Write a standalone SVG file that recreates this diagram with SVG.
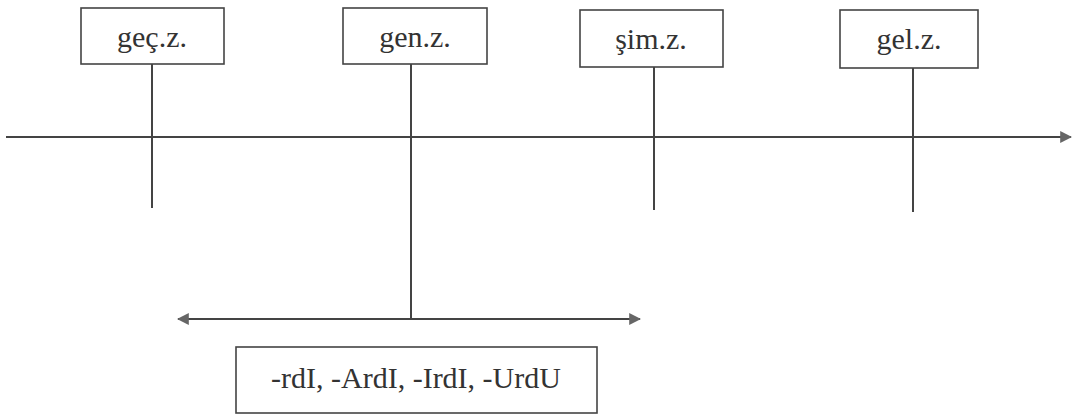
<svg xmlns="http://www.w3.org/2000/svg" width="1074" height="414" viewBox="0 0 1074 414">
<style>
.box{fill:#fff;stroke:#444;stroke-width:1.6}
.lbl{font-family:'Liberation Serif','Times New Roman','DejaVu Serif',serif;font-size:30px;fill:#333;text-anchor:middle}
.ln{stroke:#444;stroke-width:2;fill:none}
</style>
<defs>
<marker id="ah" viewBox="0 0 10 10" refX="9" refY="5" markerWidth="6" markerHeight="6" orient="auto-start-reverse" markerUnits="strokeWidth">
<path d="M0,0 L10,5 L0,10 z" fill="#666"/>
</marker>
</defs>
<rect width="1074" height="414" fill="#fff"/>
<g id="connectors">
<line class="ln" x1="6" y1="137" x2="1071" y2="137" marker-end="url(#ah)"/>
<line class="ln" x1="152" y1="64" x2="152" y2="208"/>
<line class="ln" x1="411" y1="64" x2="411" y2="319"/>
<line class="ln" x1="654" y1="67" x2="654" y2="210"/>
<line class="ln" x1="913" y1="68" x2="913" y2="212"/>
<line class="ln" x1="178" y1="319" x2="640" y2="319" marker-start="url(#ah)" marker-end="url(#ah)"/>
</g>
<g id="gec">
<rect class="box" x="81" y="8" width="143" height="56"/>
<text class="lbl" x="152" y="47">geç.z.</text>
</g>
<g id="gen">
<rect class="box" x="343" y="8" width="144" height="56"/>
<text class="lbl" x="415" y="47">gen.z.</text>
</g>
<g id="sim">
<rect class="box" x="580" y="10" width="143" height="57"/>
<text class="lbl" x="651" y="49">şim.z.</text>
</g>
<g id="gel">
<rect class="box" x="840" y="10" width="138" height="58"/>
<text class="lbl" x="909" y="49">gel.z.</text>
</g>
<g id="suffix">
<rect class="box" x="236" y="347" width="361" height="66"/>
<text class="lbl" x="416" y="388">-rdI, -ArdI, -IrdI, -UrdU</text>
</g>
</svg>
